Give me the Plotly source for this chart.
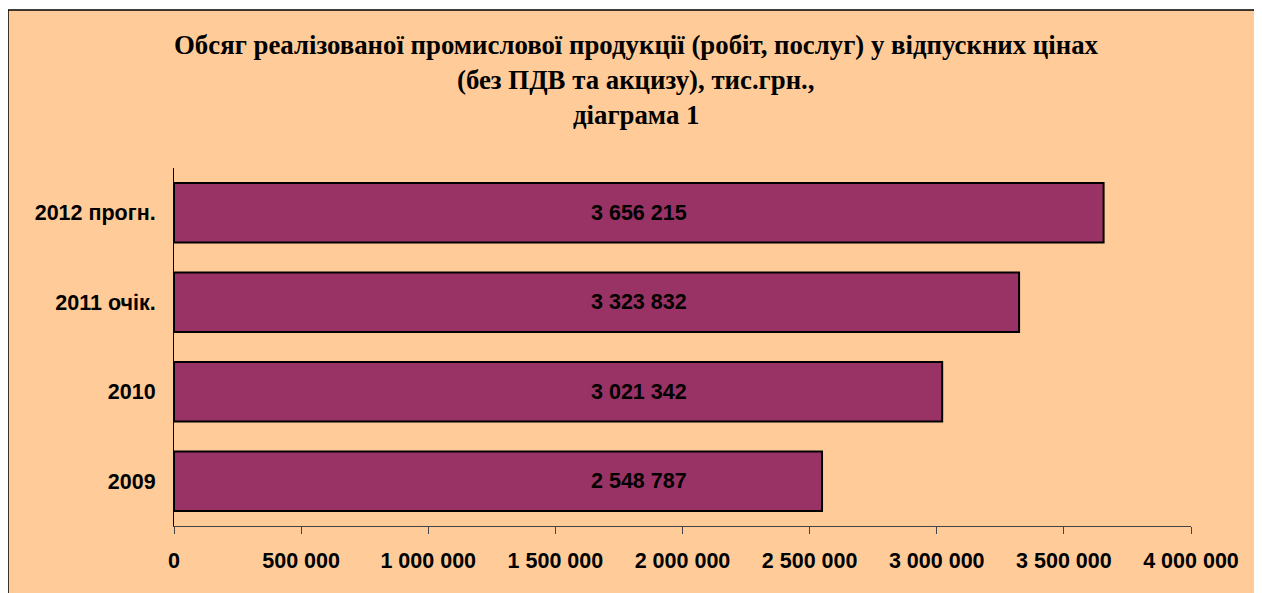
import plotly.graph_objects as go

categories = ["2009", "2010", "2011 очік.", "2012 прогн."]
values = [2548787, 3021342, 3323832, 3656215]
tick_vals = [0, 500000, 1000000, 1500000, 2000000, 2500000, 3000000, 3500000, 4000000]
title_lines = [
    "Обсяг реалізованої промислової продукції (робіт, послуг) у відпускних цінах",
    "(без ПДВ та акцизу), тис.грн.,",
    "діаграма 1",
]

OFF = 8  # page body margin
W, H = 1254, 585
L, R, T, B = 174 - OFF, 1191 - OFF, 168 - OFF, 526 - OFF
pw, ph = R - L, B - T

def px_x(p):
    return (p - OFF - L) / pw

def px_y(p):
    return (B - (p - OFF)) / ph

def fmt(v):
    return "{:,d}".format(v).replace(",", " ")

fig = go.Figure()
fig.add_trace(go.Bar(
    y=categories, x=values, orientation="h",
    marker=dict(color="#993366", line=dict(color="black", width=2)),
    hoverinfo="skip",
))

# value labels, all placed at the same horizontal position (as in the original)
for i, v in enumerate(values):
    fig.add_annotation(text="<b>%s</b>" % fmt(v), xref="paper", yref="y",
                       x=px_x(639), y=i, showarrow=False,
                       xanchor="center", yanchor="middle",
                       font=dict(family="Liberation Sans", size=21.5, color="black"))

fig.add_shape(type="rect", xref="paper", yref="paper",
              x0=px_x(8), x1=px_x(1260.5), y0=px_y(10), y1=px_y(640),
              fillcolor="#FFCC99", line=dict(color="black", width=1.5), layer="below")

for line, ypix in zip(title_lines, [45, 80, 115]):
    fig.add_annotation(text="<b>%s</b>" % line, xref="paper", yref="paper",
                       x=px_x(636), y=px_y(ypix), showarrow=False,
                       xanchor="center", yanchor="middle",
                       font=dict(family="Liberation Serif", size=26.8, color="black"))

fig.update_layout(
    width=W, height=H,
    margin=dict(l=L, r=W - R, t=T, b=H - B, pad=0),
    paper_bgcolor="white", plot_bgcolor="rgba(0,0,0,0)",
    bargap=0.333, showlegend=False,
    separators=", ",
    xaxis=dict(range=[0, 4000000], tickvals=tick_vals, tickformat=",d",
               showgrid=False, zeroline=False, showline=True, linecolor="#444", linewidth=1,
               ticks="outside", ticklen=7, tickcolor="#444", ticklabelstandoff=8,
               tickfont=dict(family="Liberation Sans", size=21.5, color="black", weight="bold"),
               fixedrange=True),
    yaxis=dict(categoryorder="array", categoryarray=categories, range=[-0.5, 3.5],
               showgrid=False, zeroline=False, showline=True, linecolor="black", linewidth=1,
               ticks="", ticklabelstandoff=13,
               tickfont=dict(family="Liberation Sans", size=21.5, color="black", weight="bold"),
               fixedrange=True),
)

fig.write_html("out.html")
